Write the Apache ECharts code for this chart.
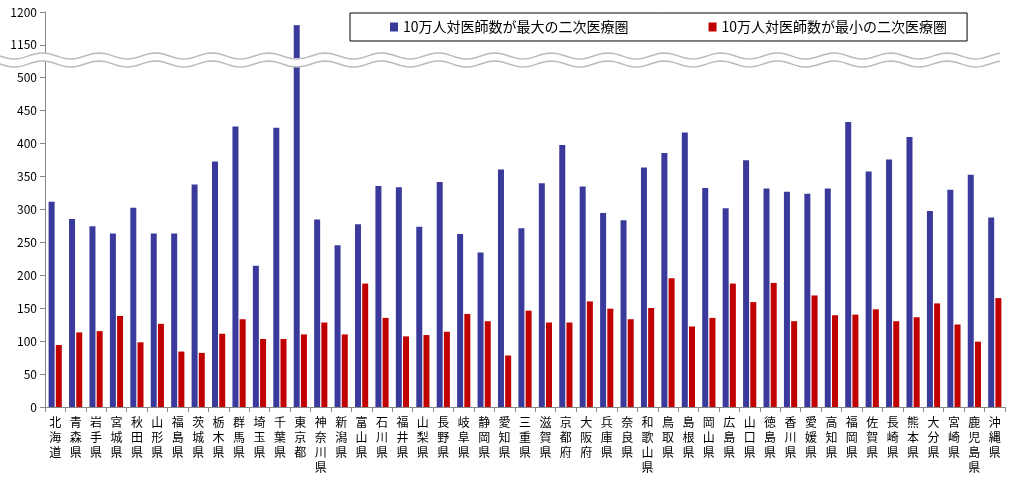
<!DOCTYPE html>
<html><head><meta charset="utf-8">
<script src="https://cdn.jsdelivr.net/npm/echarts@6/dist/echarts.min.js"></script>
<style>html,body{margin:0;padding:0;background:#fff}#c{width:1023px;height:484px}</style>
</head><body><div id="c"></div>
<script>
const categories=["北海道","青森県","岩手県","宮城県","秋田県","山形県","福島県","茨城県","栃木県","群馬県","埼玉県","千葉県","東京都","神奈川県","新潟県","富山県","石川県","福井県","山梨県","長野県","岐阜県","静岡県","愛知県","三重県","滋賀県","京都府","大阪府","兵庫県","奈良県","和歌山県","鳥取県","島根県","岡山県","広島県","山口県","徳島県","香川県","愛媛県","高知県","福岡県","佐賀県","長崎県","熊本県","大分県","宮崎県","鹿児島県","沖縄県"];
const maxVals=[311,285,274,263,302,263,263,337,372,425,214,423,1180,284,245,277,335,333,273,341,262,234,360,271,339,397,334,294,283,363,385,416,332,301,374,331,326,323,331,432,357,375,409,297,329,352,287];
const minVals=[94,113,115,138,98,126,84,82,111,133,103,103,110,128,110,187,135,107,109,114,141,130,78,146,128,128,160,149,133,150,195,122,135,187,159,188,130,169,139,140,148,130,136,157,125,99,165];
const tickLabelsTop=[1150,1200];
const names=["10万人対医師数が最大の二次医療圏","10万人対医師数が最小の二次医療圏"];
const blue="#3a3a9c",red="#c00000";
const topMax=maxVals.map(v=>v>1130?v:'-');
const chart=echarts.init(document.getElementById('c'));
const font='"Noto Sans CJK JP", sans-serif';
function wave(y){const p=[];for(let x=0;x<=1000;x+=4)p.push([x,y+3*Math.sin(x/9)]);return p;}
chart.setOption({
 animation:false,
 textStyle:{fontFamily:font},
 legend:{top:13,left:350,padding:[7,20,7,40],itemGap:80,borderColor:'#000',borderWidth:1,itemWidth:8,itemHeight:9,
  textStyle:{fontSize:14,color:'#000'},data:names.map(n=>({name:n,icon:'rect'}))},
 grid:[{left:45,right:18,top:12,height:46},{left:45,right:18,top:60.5,bottom:77}],
 xAxis:[
  {gridIndex:0,type:'category',data:categories,axisLine:{show:false},axisTick:{show:false},axisLabel:{show:false}},
  {gridIndex:1,type:'category',data:categories,axisLine:{lineStyle:{color:'#888'}},axisTick:{show:true,lineStyle:{color:'#888'}},
   axisLabel:{interval:0,fontSize:12,lineHeight:15,color:'#000',formatter:v=>v.split('').join('\n')}}
 ],
 yAxis:[
  {gridIndex:0,min:1130,max:1200,splitLine:{show:false},axisLine:{show:true,lineStyle:{color:'#888'}},
   axisTick:{show:true,customValues:tickLabelsTop},axisLabel:{customValues:tickLabelsTop,color:'#000',fontSize:12,formatter:v=>String(v)}},
  {gridIndex:1,min:0,max:525,interval:50,splitLine:{show:false},axisLine:{show:true,lineStyle:{color:'#888'}},
   axisTick:{show:true},axisLabel:{showMaxLabel:false,color:'#000',fontSize:12}}
 ],
 series:[
  {name:names[0],type:'bar',xAxisIndex:1,yAxisIndex:1,data:maxVals,itemStyle:{color:blue},barWidth:6,barGap:'20%'},
  {name:names[1],type:'bar',xAxisIndex:1,yAxisIndex:1,data:minVals,itemStyle:{color:red},barWidth:6,barGap:'20%'},
  {name:names[0],type:'bar',xAxisIndex:0,yAxisIndex:0,data:topMax,itemStyle:{color:blue},barWidth:6,barGap:'20%'},
  {name:names[1],type:'bar',xAxisIndex:0,yAxisIndex:0,data:minVals.map(()=>'-'),itemStyle:{color:red},barWidth:6,barGap:'20%'}
 ],
 graphic:[
  {type:'polygon',shape:{points:wave(56).concat(wave(64).reverse())},style:{fill:'#fff'},z:100},
  {type:'polyline',shape:{points:wave(56)},style:{stroke:'#bbb',lineWidth:1.5,fill:null},z:101},
  {type:'polyline',shape:{points:wave(64)},style:{stroke:'#bbb',lineWidth:1.5,fill:null},z:101}
 ]
});
</script></body></html>
